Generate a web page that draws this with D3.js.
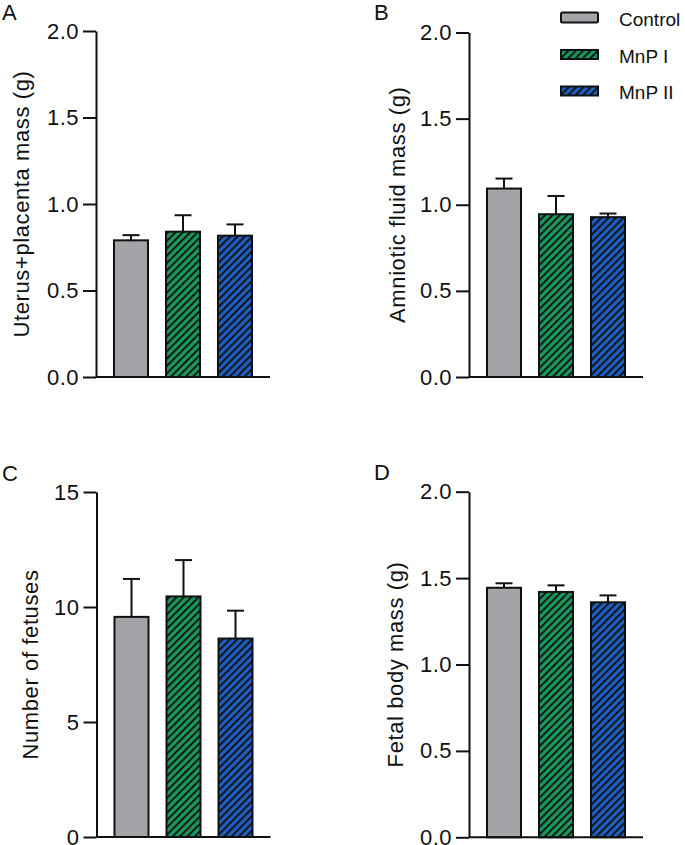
<!DOCTYPE html>
<html>
<head>
<meta charset="utf-8">
<script src="https://cdn.jsdelivr.net/npm/d3@7"></script>
<style>
  body { margin: 0; background: #fff; }
  svg { display: block; font-family: "Liberation Sans", Arial, sans-serif; }
</style>
</head>
<body>
<svg id="fig" width="685" height="845"></svg>
<script>
var groups = ['Control', 'MnP I', 'MnP II'];

var uterusMean = [0.79, 0.84, 0.817];
var uterusSem = [0.03, 0.095, 0.065];

var amnioticMean = [1.094, 0.945, 0.928];
var amnioticSem = [0.058, 0.106, 0.021];

var fetusesMean = [9.57, 10.46, 8.63];
var fetusesSem = [1.65, 1.58, 1.21];

var fetalMean = [1.444, 1.42, 1.36];
var fetalSem = [0.026, 0.038, 0.04];

var massTicks = [0, 0.5, 1.0, 1.5, 2.0];
var fetusTicks = [0, 5, 10, 15];

var fills = ['#a3a3a8', '#17995e', '#1d5ec0'];
var hatched = [false, true, true];

var svg = d3.select('#fig');

// hatch patterns
var defs = svg.append('defs');
var hs = 5.2;
fills.forEach(function (c, i) {
    if (!hatched[i]) return;
    var p = defs.append('pattern')
        .attr('id', 'hatch' + i)
        .attr('patternUnits', 'userSpaceOnUse')
        .attr('width', hs)
        .attr('height', hs)
        .attr('patternTransform', 'rotate(45)');
    p.append('rect').attr('width', hs).attr('height', hs).attr('fill', c);
    p.append('line')
        .attr('x1', 1).attr('y1', 0).attr('x2', 1).attr('y2', hs)
        .attr('stroke', '#111').attr('stroke-width', 1.9);
});

function fillFor(i) {
    return hatched[i] ? 'url(#hatch' + i + ')' : fills[i];
}

function panel(opts) {
    var g = svg.append('g').attr('transform', 'translate(' + opts.x + ',' + opts.y + ')');
    var h = opts.h;

    var x = d3.scaleBand().domain(groups).range([0, 174]).paddingInner(0.346).paddingOuter(0.346);
    var y = d3.scaleLinear().domain([0, d3.max(opts.ticks)]).range([h, 0]);

    // bars
    g.selectAll('.bar')
        .data(opts.mean)
        .enter()
        .append('rect')
        .attr('class', 'bar')
        .attr('x', function (d, i) { return x(groups[i]); })
        .attr('y', function (d) { return y(d); })
        .attr('width', x.bandwidth())
        .attr('height', function (d) { return h - y(d); })
        .attr('fill', function (d, i) { return fillFor(i); })
        .attr('stroke', '#111')
        .attr('stroke-width', 2);

    // error bars (upper only)
    var eb = g.selectAll('.err')
        .data(opts.mean)
        .enter()
        .append('g')
        .attr('class', 'err')
        .attr('stroke', '#111')
        .attr('stroke-width', 2);
    eb.append('line')
        .attr('x1', function (d, i) { return x(groups[i]) + x.bandwidth() / 2; })
        .attr('x2', function (d, i) { return x(groups[i]) + x.bandwidth() / 2; })
        .attr('y1', function (d) { return y(d); })
        .attr('y2', function (d, i) { return y(d + opts.sem[i]); });
    eb.append('line')
        .attr('x1', function (d, i) { return x(groups[i]) + x.bandwidth() / 2 - 8.5; })
        .attr('x2', function (d, i) { return x(groups[i]) + x.bandwidth() / 2 + 8.5; })
        .attr('y1', function (d, i) { return y(d + opts.sem[i]); })
        .attr('y2', function (d, i) { return y(d + opts.sem[i]); });

    // y axis
    var ay = g.append('g')
        .call(d3.axisLeft(y).tickValues(opts.ticks).tickFormat(opts.fmt)
            .tickSize(13).tickSizeOuter(0).tickPadding(4));
    ay.attr('font-size', null).attr('font-family', null);
    ay.selectAll('path, line').attr('stroke', '#111').attr('stroke-width', 2);
    ay.selectAll('text')
        .attr('fill', '#111')
        .attr('font-size', 22)
        .attr('letter-spacing', 0.5);

    // x axis line
    g.append('line')
        .attr('x1', 0).attr('x2', 174)
        .attr('y1', h).attr('y2', h)
        .attr('stroke', '#111').attr('stroke-width', 2);

    // axis title
    g.append('text')
        .attr('transform', 'translate(' + (-opts.titleOff) + ',' + (h / 2) + ') rotate(-90)')
        .attr('text-anchor', 'middle')
        .attr('fill', '#111')
        .attr('font-size', 22)
        .attr('letter-spacing', 0.6)
        .text(opts.title);

    // panel letter
    svg.append('text')
        .attr('x', opts.letterX).attr('y', opts.letterY)
        .attr('fill', '#111')
        .attr('font-size', 22)
        .text(opts.letter);
}

var fmtMass = d3.format('.1f');
var fmtInt = d3.format('d');

panel({ x: 96, y: 31, h: 346, mean: uterusMean, sem: uterusSem, ticks: massTicks, fmt: fmtMass,
    title: 'Uterus+placenta mass (g)', titleOff: 67, letter: 'A', letterX: 2, letterY: 20 });
panel({ x: 469, y: 32.5, h: 344.5, mean: amnioticMean, sem: amnioticSem, ticks: massTicks, fmt: fmtMass,
    title: 'Amniotic fluid mass (g)', titleOff: 64, letter: 'B', letterX: 374, letterY: 20 });
panel({ x: 96.5, y: 492, h: 345, mean: fetusesMean, sem: fetusesSem, ticks: fetusTicks, fmt: fmtInt,
    title: 'Number of fetuses', titleOff: 58.5, letter: 'C', letterX: 2, letterY: 481 });
panel({ x: 469, y: 491.7, h: 345.6, mean: fetalMean, sem: fetalSem, ticks: massTicks, fmt: fmtMass,
    title: 'Fetal body mass (g)', titleOff: 66, letter: 'D', letterX: 374, letterY: 480 });

// legend
var legendY = [17.5, 54.5, 91];
var leg = svg.append('g');
groups.forEach(function (name, i) {
    var h = hatched[i] ? 9 : 10;
    leg.append('rect')
        .attr('x', 561).attr('y', legendY[i] - h / 2)
        .attr('width', 37).attr('height', h)
        .attr('rx', hatched[i] ? 0 : 1.5)
        .attr('fill', fillFor(i))
        .attr('stroke', '#111').attr('stroke-width', 2);
    leg.append('text')
        .attr('x', 619).attr('y', legendY[i] + 8)
        .attr('fill', '#111')
        .attr('font-size', 19)
        .text(name);
});
</script>
</body>
</html>
